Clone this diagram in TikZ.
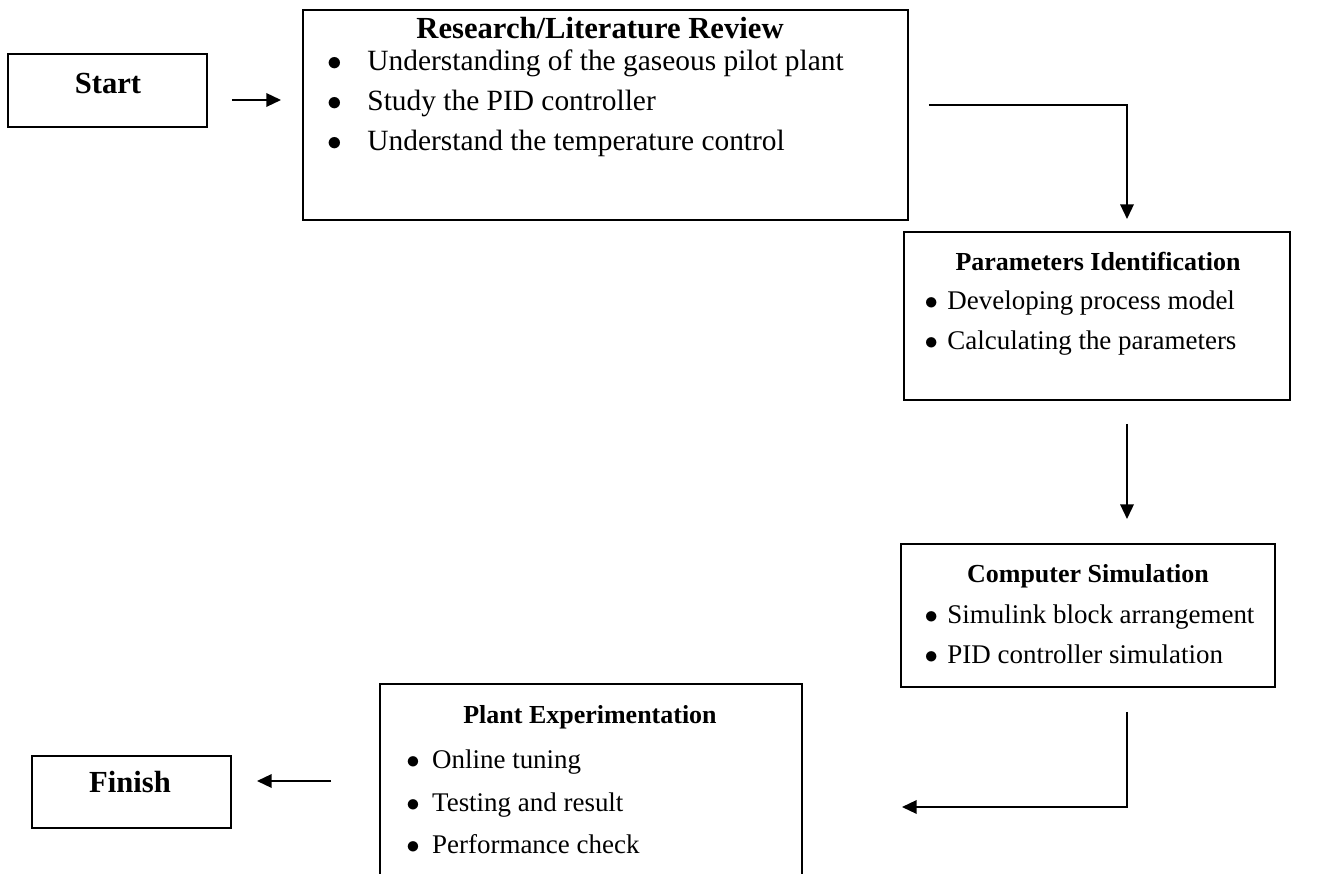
\documentclass[tikz,border=0pt]{standalone}
\usepackage{fontspec}
\setmainfont{Liberation Serif}
\usetikzlibrary{arrows.meta,fit}
\newlength\pxu
\setlength\pxu{0.408pt}
\tikzset{
  box/.style={draw, line width=0.8pt, inner sep=0pt},
  headbig/.style={anchor=base, inner sep=0pt, font=\fontsize{12.5}{14}\selectfont\bfseries},
  headsmall/.style={anchor=base, inner sep=0pt, font=\fontsize{10.6}{13}\selectfont\bfseries},
  itembig/.style={anchor=base west, inner sep=0pt, font=\fontsize{12}{14}\selectfont},
  itemsmall/.style={anchor=base west, inner sep=0pt, font=\fontsize{11}{13}\selectfont},
  flow/.style={-{Triangle[length=6pt,width=5.5pt]}, line width=0.8pt},
}
\begin{document}
\begin{tikzpicture}[x=\pxu, y=-\pxu]
  \clip (0,0) rectangle (1335,874);
  % boxes
  \node[box, fit={(8,54) (207,127)}]     (start)  {};
  \node[box, fit={(303,10) (908,220)}]   (rlr)    {};
  \node[box, fit={(904,232) (1290,400)}] (params) {};
  \node[box, fit={(901,544) (1275,687)}] (comp)   {};
  \node[box, fit={(380,684) (802,920)}]  (plant)  {};
  \node[box, fit={(32,756) (231,828)}]   (finish) {};
  % start and finish
  \node[headbig] (starttxt)  at (108,94)  {Start};
  \node[headbig] (finishtxt) at (130,792) {Finish};
  % research / literature review
  \node[headbig] (rlrhead) at (600,39) {Research/Literature Review};
  \node[itembig] (rlr1) at (327,71)  {$\bullet$\hspace{10.3pt}Understanding of the gaseous pilot plant};
  \node[itembig] (rlr2) at (327,111) {$\bullet$\hspace{10.3pt}Study the PID controller};
  \node[itembig] (rlr3) at (327,151) {$\bullet$\hspace{10.3pt}Understand the temperature control};
  % parameters identification
  \node[headsmall] (paramshead) at (1098,271) {Parameters Identification};
  \node[itemsmall] (params1) at (924,310) {$\bullet$\hspace{3.9pt}Developing process model};
  \node[itemsmall] (params2) at (924,350) {$\bullet$\hspace{3.9pt}Calculating the parameters};
  % computer simulation
  \node[headsmall] (comphead) at (1088,583) {Computer Simulation};
  \node[itemsmall] (comp1) at (924,624) {$\bullet$\hspace{3.9pt}Simulink block arrangement};
  \node[itemsmall] (comp2) at (924,664) {$\bullet$\hspace{3.9pt}PID controller simulation};
  % plant experimentation
  \node[headsmall] (planthead) at (590,723) {Plant Experimentation};
  \node[itemsmall] (plant1) at (406,768) {$\bullet$\hspace{5pt}Online tuning};
  \node[itemsmall] (plant2) at (406,811) {$\bullet$\hspace{5pt}Testing and result};
  \node[itemsmall] (plant3) at (406,853) {$\bullet$\hspace{5pt}Performance check};
  % connectors
  \draw[flow] ([xshift=24\pxu, yshift=-9.5\pxu]start.east) -- ([xshift=-21\pxu, yshift=-9.5\pxu]start.east -| rlr.west);
  \draw[flow] ([xshift=20\pxu, yshift=10\pxu]rlr.east) -| ([xshift=30\pxu, yshift=12\pxu]params.north);
  \draw[flow] ([xshift=30\pxu, yshift=-23\pxu]params.south) -- ([xshift=39\pxu, yshift=24\pxu]comp.north);
  \draw[flow] ([xshift=39\pxu, yshift=-24\pxu]comp.south) |- ([xshift=99\pxu, yshift=-5\pxu]plant.east);
  \draw[flow] ([xshift=-48\pxu, yshift=21\pxu]plant.west) -- ([xshift=25\pxu, yshift=11\pxu]finish.east);
\end{tikzpicture}
\end{document}
